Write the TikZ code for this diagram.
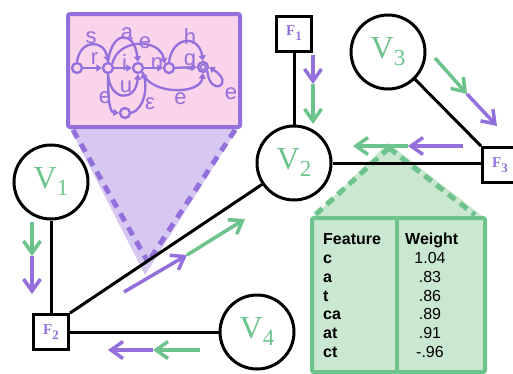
\documentclass[tikz,border=0pt]{standalone}
\usepackage{fontspec}
\setmainfont{Liberation Serif}
\newfontfamily\arialf{Liberation Sans}
\usetikzlibrary{arrows.meta}
\definecolor{pgreen}{RGB}{108,196,140}
\definecolor{ppurple}{RGB}{147,112,219}
\definecolor{pinkfill}{RGB}{250,212,235}
\definecolor{lavfill}{RGB}{214,200,240}
\definecolor{grnfill}{RGB}{202,231,208}
\newcommand{\vlab}[1]{V\raisebox{-7pt}{\fontsize{23}{23}\selectfont #1}}
\newcommand{\flab}[1]{F\raisebox{-5pt}{\fontsize{13}{13}\selectfont #1}}
\begin{document}
\begin{tikzpicture}[x=1pt,y=-1pt,
  vnode/.style={circle,draw,fill=white,line width=3pt,minimum size=74pt,inner sep=0pt,text=pgreen,font=\fontsize{32}{32}\selectfont},
  fnode/.style={rectangle,draw,fill=white,line width=3pt,minimum size=35pt,inner sep=0pt,text=ppurple,font=\bfseries\fontsize{15}{15}\selectfont},
  edgeline/.style={line width=3pt},
  msg/.style={line width=3.5pt,-{Straight Barb[length=12pt,width=17pt,line width=3.5pt]}},
  st/.style={circle,draw=ppurple,fill=pinkfill,line width=2.3pt,minimum size=10pt,inner sep=0pt},
  fa/.style={ppurple,line width=2.3pt,-{Triangle[length=5.5pt,width=7pt]}},
  fl/.style={text=ppurple,inner sep=0pt,font=\arialf\fontsize{22}{22}\selectfont},
  pdash/.style={ppurple,line width=5pt,dash pattern=on 9pt off 7pt},
  gdash/.style={pgreen,line width=5pt,dash pattern=on 9pt off 6pt},
  tb/.style={inner sep=0pt,anchor=base west,font=\arialf\bfseries\fontsize{16}{16}\selectfont},
  tv/.style={inner sep=0pt,anchor=base,font=\arialf\fontsize{16}{16}\selectfont}
]
\clip (0,0) rectangle (513,373);
\fill[white] (0,0) rectangle (513,373);

% purple zoom triangle
\fill[lavfill] (70,128) -- (238,128) -- (145,275) -- cycle;
\draw[pdash] (73,130) -- (148,262);
\draw[pdash] (235,130) -- (148,262);

% pink FSA box
\draw[ppurple,fill=pinkfill,line width=4pt,rounded corners=2pt] (68,14) rectangle (240,127);
\node[st] (s0) at (77,68) {};
\node[st] (s1) at (108,68) {};
\node[st] (s2) at (138,68) {};
\node[st] (s3) at (125,113) {};
\node[st] (s4) at (169,68) {};
\node[st] (s5) at (203,67) {};
\draw[ppurple,line width=1.5pt] (s5) circle (2.5pt);
\draw[fa] (s0) -- (s1);
\draw[fa] (s0.north) .. controls (80,39) and (104,39) .. (s1.north);
\draw[fa] (s1) -- (s2);
\draw[fa] (s1.north) .. controls (112,30) and (134,30) .. (s2.north);
\draw[fa] (s1.north east) .. controls (118,38) and (160,38) .. (s4.north west);
\draw[fa] (s1.south) .. controls (110,102) and (136,102) .. (s2.south);
\draw[fa] (s1.south) .. controls (108,102) and (110,112) .. (s3.west);
\draw[fa] (s3.east) .. controls (146,108) and (147,85) .. (s2.south east);
\draw[fa] (s2) -- (s4);
\draw[fa] (s4) -- (s5);
\draw[fa] (s4.north) .. controls (173,35) and (199,35) .. (s5.north);
\draw[fa] (s2.south east) .. controls (150,95) and (200,95) .. (s5.south);
\draw[fa] (s5.south east) .. controls (210,98) and (236,84) .. (s5.east);
\node[fl] (ls) at (91,38) {s};
\node[fl] (lr) at (94.5,59) {r};
\node[fl] (la) at (127,33.5) {a};
\node[fl] (li) at (124.5,63) {i};
\node[fl] (le1) at (145,42.5) {e};
\node[fl] (ln) at (157,64) {n};
\node[fl] (lh) at (190,36.5) {h};
\node[fl] (lg) at (190,62) {g};
\node[fl] (lu) at (126,86.5) {u};
\node[fl] (le2) at (105,98) {e};
\node[fl] (leps) at (150,104) {ε};
\node[fl] (le3) at (180.5,98.5) {e};
\node[fl] (le4) at (231,93.5) {e};

% green zoom triangle
\fill[grnfill] (388,143) -- (485,218) -- (312,218) -- cycle;
\draw[gdash] (389,148) -- (315,215);
\draw[gdash] (389,148) -- (475,215);

% green table box
\draw[pgreen,fill=grnfill,line width=4pt,rounded corners=2pt] (312,218) rectangle (485,372);
\draw[pgreen,line width=4pt] (397,218) -- (397,372);
\node[tb] (hf) at (323,244) {Feature};
\node[tb] (hw) at (405,244) {Weight};
\node[tb] (f1) at (323,263) {c};
\node[tb] (f2) at (323,282) {a};
\node[tb] (f3) at (323,301) {t};
\node[tb] (f4) at (323,319) {ca};
\node[tb] (f5) at (323,338) {at};
\node[tb] (f6) at (323,357) {ct};
\node[tv] (w1) at (430,263) {1.04};
\node[tv] (w2) at (430,282) {.83};
\node[tv] (w3) at (430,301) {.86};
\node[tv] (w4) at (430,319) {.89};
\node[tv] (w5) at (430,338) {.91};
\node[tv] (w6) at (430,357) {-.96};

% factor graph nodes
\node[vnode] (V1) at (51,182) {\vlab{1}};
\node[vnode] (V2) at (294,163) {\vlab{2}};
\node[vnode] (V3) at (388,52) {\vlab{3}};
\node[vnode] (V4) at (257,332) {\vlab{4}};
\node[fnode] (F1) at (294,33.5) {\flab{1}};
\node[fnode] (F2) at (51,332) {\flab{2}};
\node[fnode] (F3) at (500,165) {\flab{3}};

% edges
\draw[edgeline] (F1) -- (V2);
\draw[edgeline] (V3) -- (F3.north west);
\draw[edgeline] (V2.east) -- (V2.east -| F3.west);
\draw[edgeline] (V1) -- (F2);
\draw[edgeline] (F2.north east) -- (V2);
\draw[edgeline] (F2) -- (V4);

% messages
\coordinate (m1a) at (313,55);  \coordinate (m1b) at (313,84);  \coordinate (m1c) at (313,124);
\coordinate (m2a) at (435,58);  \coordinate (m2b) at (467,94);  \coordinate (m2c) at (497,126);
\coordinate (m3a) at (463,146); \coordinate (m3b) at (408,146); \coordinate (m3c) at (353,146);
\coordinate (m4a) at (32,222);  \coordinate (m4b) at (32,256);  \coordinate (m4c) at (32,294);
\coordinate (m5a) at (124,292); \coordinate (m5b) at (187,255); \coordinate (m5c) at (245,219);
\coordinate (m6a) at (200,350); \coordinate (m6b) at (153,350); \coordinate (m6c) at (108,350);
\draw[msg,ppurple] (m1a) -- (m1b);
\draw[msg,pgreen] (m1b) -- (m1c);
\draw[msg,pgreen] (m2a) -- (m2b);
\draw[msg,ppurple] (m2b) -- (m2c);
\draw[msg,ppurple] (m3a) -- (m3b);
\draw[msg,pgreen] (m3b) -- (m3c);
\draw[msg,pgreen] (m4a) -- (m4b);
\draw[msg,ppurple] (m4b) -- (m4c);
\draw[msg,ppurple] (m5a) -- (m5b);
\draw[msg,pgreen] (m5b) -- (m5c);
\draw[msg,pgreen] (m6a) -- (m6b);
\draw[msg,ppurple] (m6b) -- (m6c);
\end{tikzpicture}
\end{document}
